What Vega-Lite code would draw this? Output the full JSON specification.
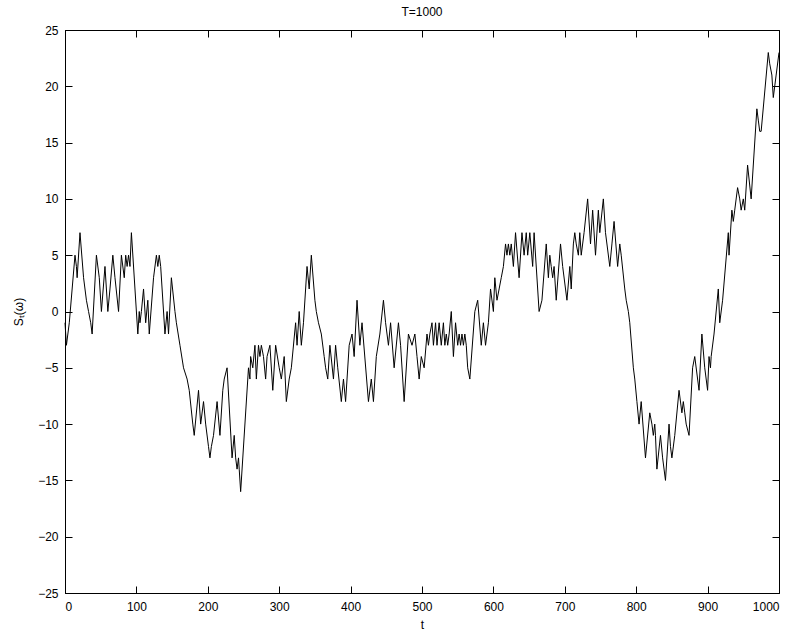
{
  "$schema": "https://vega.github.io/schema/vega-lite/v6.json",
  "width": 714,
  "height": 563,
  "autosize": "none",
  "padding": {"left": 65, "top": 30, "right": 17, "bottom": 42},
  "background": "white",
  "title": {"text": "T=1000", "font": "Liberation Sans", "fontSize": 12, "fontWeight": "normal", "color": "black", "offset": 5},
  "config": {
    "view": {"stroke": "black", "strokeWidth": 1},
    "axis": {"labelFont": "Liberation Sans", "labelFontSize": 12, "labelColor": "black", "titleFont": "Liberation Sans", "titleFontSize": 12, "titleFontWeight": "normal", "titleColor": "black", "domainColor": "black", "tickColor": "black", "tickWidth": 1, "grid": false, "tickSize": 7}
  },
  "data": {"values": [
    {"t":0,"s":-1},{"t":2,"s":-3},{"t":6,"s":-1},{"t":14,"s":5},{"t":16,"s":4},{"t":17,"s":3},{"t":21,"s":7},{"t":26,"s":3},{"t":30,"s":1},{"t":33,"s":0},{"t":36,"s":-1},{"t":38,"s":-2},{"t":44,"s":5},{"t":48,"s":3},{"t":51,"s":0},{"t":56,"s":4},{"t":60,"s":0},{"t":63,"s":2},{"t":67,"s":5},{"t":70,"s":3},{"t":75,"s":0},{"t":79,"s":5},{"t":83,"s":3},{"t":85,"s":5},{"t":87,"s":4},{"t":89,"s":5},{"t":91,"s":4},{"t":93,"s":7},{"t":102,"s":-2},{"t":104,"s":0},{"t":105,"s":-1},{"t":107,"s":0},{"t":110,"s":2},{"t":113,"s":-1},{"t":116,"s":1},{"t":118,"s":-2},{"t":124,"s":3},{"t":128,"s":5},{"t":130,"s":4},{"t":132,"s":5},{"t":134,"s":4},{"t":140,"s":-2},{"t":143,"s":0},{"t":145,"s":-2},{"t":149,"s":3},{"t":154,"s":0},{"t":156,"s":-1},{"t":161,"s":-3},{"t":166,"s":-5},{"t":171,"s":-6},{"t":174,"s":-7},{"t":179,"s":-10},{"t":181,"s":-11},{"t":187,"s":-7},{"t":190,"s":-10},{"t":194,"s":-8},{"t":197,"s":-10},{"t":201,"s":-12},{"t":203,"s":-13},{"t":205,"s":-12},{"t":208,"s":-11},{"t":213,"s":-8},{"t":217,"s":-11},{"t":221,"s":-7},{"t":223,"s":-6},{"t":227,"s":-5},{"t":234,"s":-13},{"t":237,"s":-11},{"t":239,"s":-13},{"t":241,"s":-14},{"t":243,"s":-13},{"t":244,"s":-14},{"t":246,"s":-16},{"t":257,"s":-5},{"t":259,"s":-6},{"t":260,"s":-4},{"t":263,"s":-5},{"t":266,"s":-3},{"t":268,"s":-6},{"t":271,"s":-3},{"t":273,"s":-4},{"t":275,"s":-3},{"t":278,"s":-4},{"t":281,"s":-6},{"t":283,"s":-4},{"t":287,"s":-3},{"t":291,"s":-7},{"t":295,"s":-3},{"t":300,"s":-5},{"t":303,"s":-6},{"t":307,"s":-4},{"t":310,"s":-8},{"t":314,"s":-6},{"t":317,"s":-5},{"t":323,"s":-1},{"t":325,"s":-3},{"t":328,"s":0},{"t":331,"s":-3},{"t":334,"s":-1},{"t":339,"s":4},{"t":342,"s":2},{"t":345,"s":5},{"t":350,"s":1},{"t":352,"s":0},{"t":355,"s":-1},{"t":359,"s":-2},{"t":363,"s":-4},{"t":365,"s":-5},{"t":368,"s":-6},{"t":371,"s":-3},{"t":376,"s":-6},{"t":379,"s":-3},{"t":382,"s":-5},{"t":387,"s":-8},{"t":390,"s":-6},{"t":393,"s":-8},{"t":398,"s":-3},{"t":402,"s":-2},{"t":405,"s":-4},{"t":409,"s":1},{"t":413,"s":-3},{"t":416,"s":-1},{"t":425,"s":-8},{"t":429,"s":-6},{"t":432,"s":-8},{"t":436,"s":-4},{"t":441,"s":-2},{"t":446,"s":1},{"t":449,"s":-1},{"t":453,"s":-3},{"t":456,"s":-1},{"t":461,"s":-5},{"t":467,"s":-1},{"t":470,"s":-3},{"t":475,"s":-8},{"t":481,"s":-2},{"t":486,"s":-3},{"t":490,"s":-2},{"t":493,"s":-4},{"t":496,"s":-6},{"t":499,"s":-4},{"t":503,"s":-5},{"t":507,"s":-2},{"t":509,"s":-3},{"t":511,"s":-2},{"t":514,"s":-1},{"t":516,"s":-3},{"t":519,"s":-1},{"t":521,"s":-3},{"t":524,"s":-1},{"t":527,"s":-3},{"t":530,"s":-1},{"t":532,"s":-3},{"t":534,"s":-2},{"t":536,"s":-3},{"t":538,"s":-2},{"t":541,"s":0},{"t":544,"s":-4},{"t":547,"s":-1},{"t":550,"s":-3},{"t":552,"s":-2},{"t":554,"s":-3},{"t":556,"s":-2},{"t":558,"s":-3},{"t":560,"s":-2},{"t":562,"s":-3},{"t":564,"s":-5},{"t":567,"s":-6},{"t":574,"s":0},{"t":578,"s":1},{"t":583,"s":-3},{"t":586,"s":-1},{"t":589,"s":-3},{"t":593,"s":-1},{"t":596,"s":2},{"t":600,"s":0},{"t":602,"s":3},{"t":605,"s":1},{"t":608,"s":2},{"t":611,"s":3},{"t":614,"s":4},{"t":617,"s":6},{"t":619,"s":5},{"t":621,"s":6},{"t":623,"s":5},{"t":625,"s":6},{"t":628,"s":4},{"t":631,"s":7},{"t":636,"s":3},{"t":640,"s":7},{"t":643,"s":5},{"t":646,"s":7},{"t":648,"s":5},{"t":651,"s":7},{"t":655,"s":4},{"t":657,"s":7},{"t":664,"s":0},{"t":668,"s":1},{"t":674,"s":6},{"t":677,"s":3},{"t":679,"s":5},{"t":681,"s":4},{"t":683,"s":3},{"t":685,"s":4},{"t":688,"s":1},{"t":694,"s":6},{"t":697,"s":4},{"t":703,"s":1},{"t":707,"s":4},{"t":709,"s":2},{"t":712,"s":6},{"t":714,"s":7},{"t":716,"s":6},{"t":719,"s":5},{"t":721,"s":7},{"t":723,"s":5},{"t":727,"s":7},{"t":732,"s":10},{"t":736,"s":6},{"t":739,"s":9},{"t":743,"s":5},{"t":747,"s":9},{"t":749,"s":7},{"t":754,"s":10},{"t":757,"s":7},{"t":763,"s":4},{"t":766,"s":6},{"t":769,"s":8},{"t":774,"s":4},{"t":777,"s":6},{"t":779,"s":5},{"t":784,"s":2},{"t":786,"s":1},{"t":789,"s":0},{"t":791,"s":-1},{"t":796,"s":-5},{"t":798,"s":-6},{"t":801,"s":-8},{"t":804,"s":-10},{"t":807,"s":-8},{"t":813,"s":-13},{"t":819,"s":-9},{"t":822,"s":-10},{"t":824,"s":-11},{"t":826,"s":-10},{"t":827,"s":-11},{"t":829,"s":-14},{"t":834,"s":-11},{"t":837,"s":-13},{"t":841,"s":-15},{"t":846,"s":-10},{"t":848,"s":-12},{"t":850,"s":-13},{"t":854,"s":-11},{"t":860,"s":-7},{"t":864,"s":-9},{"t":866,"s":-8},{"t":868,"s":-9},{"t":870,"s":-10},{"t":874,"s":-11},{"t":879,"s":-5},{"t":882,"s":-4},{"t":888,"s":-7},{"t":892,"s":-2},{"t":896,"s":-5},{"t":900,"s":-7},{"t":902,"s":-4},{"t":904,"s":-5},{"t":905,"s":-4},{"t":909,"s":-2},{"t":915,"s":2},{"t":917,"s":-1},{"t":921,"s":1},{"t":929,"s":7},{"t":930,"s":5},{"t":934,"s":9},{"t":936,"s":8},{"t":938,"s":9},{"t":942,"s":11},{"t":945,"s":10},{"t":947,"s":9},{"t":950,"s":10},{"t":952,"s":9},{"t":956,"s":13},{"t":961,"s":10},{"t":969,"s":18},{"t":971,"s":17},{"t":973,"s":16},{"t":975,"s":16},{"t":985,"s":23},{"t":987,"s":22},{"t":990,"s":21},{"t":991,"s":20},{"t":992,"s":19},{"t":996,"s":21},{"t":1000,"s":23}
  ]},
  "layer": [
    {
      "mark": {"type": "line", "color": "black", "strokeWidth": 1},
      "encoding": {
        "x": {"field": "t", "type": "quantitative", "scale": {"domain": [0, 1000], "nice": false}, "axis": {"orient": "bottom", "values": [0,100,200,300,400,500,600,700,800,900,1000], "format": "d", "ticks": false, "labelPadding": 8, "title": "t", "titleY": 26}},
        "y": {"field": "s", "type": "quantitative", "scale": {"domain": [-25, 25], "nice": false, "zero": false}, "axis": {"orient": "left", "values": [-25,-20,-15,-10,-5,0,5,10,15,20,25], "ticks": false, "labelPadding": 7, "title": "Sₜ(ω)", "titleX": -40}}
      }
    },
    {
      "mark": {"type": "line", "color": "black", "strokeWidth": 1, "opacity": 0},
      "encoding": {
        "x": {"field": "t", "type": "quantitative", "axis": {"orient": "top", "offset": -563, "domain": false, "values": [0,100,200,300,400,500,600,700,800,900,1000], "labels": false, "title": null}},
        "y": {"field": "s", "type": "quantitative", "axis": {"orient": "right", "offset": -714, "domain": false, "values": [-25,-20,-15,-10,-5,0,5,10,15,20,25], "labels": false, "title": null}}
      }
    },
    {
      "mark": {"type": "line", "color": "black", "strokeWidth": 1, "opacity": 0},
      "encoding": {
        "x": {"field": "t", "type": "quantitative", "axis": {"orient": "bottom", "offset": -563, "domain": false, "values": [0,100,200,300,400,500,600,700,800,900,1000], "labels": false, "title": null}},
        "y": {"field": "s", "type": "quantitative", "axis": {"orient": "left", "offset": -714, "domain": false, "values": [-25,-20,-15,-10,-5,0,5,10,15,20,25], "labels": false, "title": null}}
      }
    }
  ],
  "resolve": {"axis": {"x": "independent", "y": "independent"}}
}
